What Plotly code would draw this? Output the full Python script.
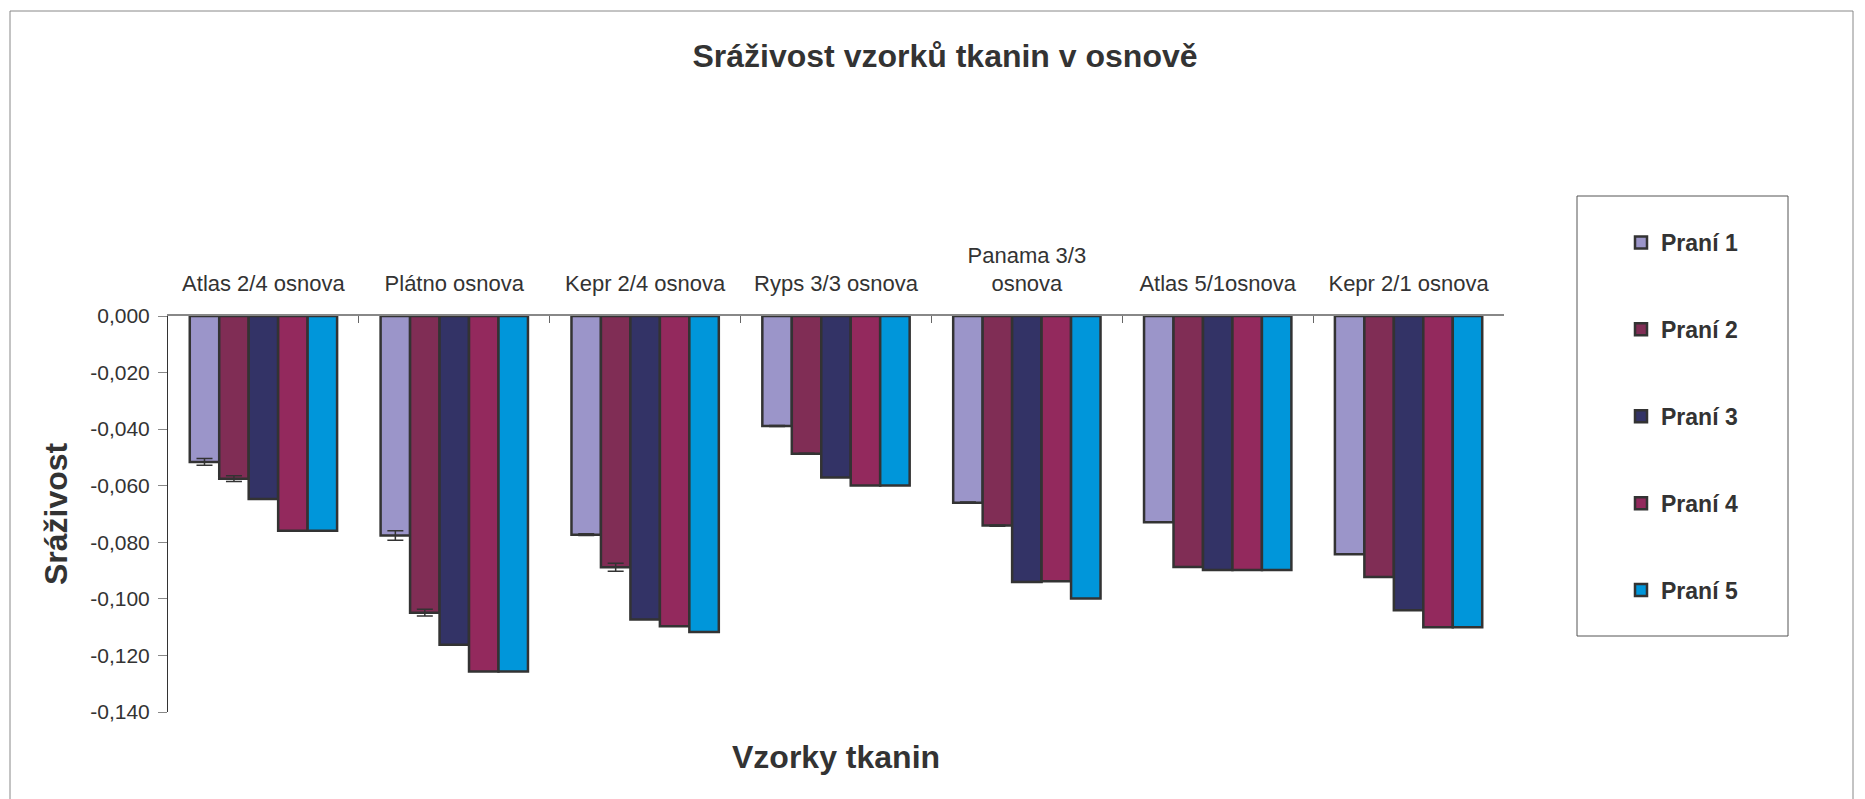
import plotly.graph_objects as go

categories = ["Atlas 2/4 osnova", "Plátno osnova", "Kepr 2/4 osnova", "Ryps 3/3 osnova",
              "Panama 3/3<br>osnova", "Atlas 5/1osnova", "Kepr 2/1 osnova"]
series_names = ["Praní 1", "Praní 2", "Praní 3", "Praní 4", "Praní 5"]

prani1 = [-0.0516, -0.0776, -0.0773, -0.0389, -0.0660, -0.0729, -0.0842]
prani2 = [-0.0575, -0.1049, -0.0888, -0.0487, -0.0741, -0.0887, -0.0923]
prani3 = [-0.0647, -0.1162, -0.1073, -0.0571, -0.0940, -0.0898, -0.1040]
prani4 = [-0.0759, -0.1257, -0.1097, -0.0599, -0.0938, -0.0898, -0.1100]
prani5 = [-0.0759, -0.1257, -0.1117, -0.0599, -0.0999, -0.0898, -0.1100]

err1 = [0.0012, 0.0017, 0.0003, 0.0002, 0.0002, 0.0, 0.0]
err2 = [0.0010, 0.0012, 0.0014, 0.0002, 0.0002, 0.0, 0.0]

y_ticks = [0.0, -0.02, -0.04, -0.06, -0.08, -0.10, -0.12, -0.14]
y_ticktext = [f"{v:.3f}".replace(".", ",") for v in y_ticks]

colors = ["#9B95C9", "#802D55", "#333366", "#93295D", "#0096DA"]
values = [prani1, prani2, prani3, prani4, prani5]
errors = [err1, err2, None, None, None]

W, H = 1865, 799
L, R, T, B = 168, 1504, 316, 712

def px_x(px):
    return (px - L) / (R - L)

def px_y(py):
    return (B - py) / (B - T)

FONT = "Liberation Sans, Arial, sans-serif"
TXT = "#333333"

fig = go.Figure()
for i, (name, vals) in enumerate(zip(series_names, values)):
    kw = {}
    if errors[i] is not None:
        kw["error_y"] = dict(type="data", array=errors[i], symmetric=True,
                             color="#333333", thickness=1.5, width=8)
    fig.add_trace(go.Bar(
        x=categories, y=vals, name=name, legendgroup=name,
        marker=dict(color=colors[i], line=dict(color="#333333", width=2.5)),
        **kw))

shapes = [
    dict(type="rect", xref="paper", yref="paper",
         x0=px_x(10), x1=px_x(1853), y0=px_y(812), y1=px_y(11),
         line=dict(color="#888888", width=1), layer="below"),
    dict(type="rect", xref="paper", yref="paper",
         x0=px_x(1577), x1=px_x(1788), y0=px_y(636), y1=px_y(196),
         line=dict(color="#555555", width=1), layer="below"),
]

annotations = [
    dict(text="Vzorky tkanin", xref="paper", yref="paper",
         x=px_x(836), y=px_y(757), xanchor="center", yanchor="middle",
         showarrow=False, font=dict(family=FONT, size=32, color=TXT, weight="bold")),
    dict(text="Sráživost", xref="paper", yref="paper",
         x=px_x(56), y=px_y(514), xanchor="center", yanchor="middle", textangle=-90,
         showarrow=False, font=dict(family=FONT, size=32, color=TXT, weight="bold")),
]

fig.update_layout(
    width=W, height=H,
    margin=dict(l=L, r=W - R, t=T, b=H - B, pad=0),
    paper_bgcolor="white", plot_bgcolor="white",
    title=dict(text="Sráživost vzorků tkanin v osnově", x=945 / W, xref="container",
               xanchor="center", y=1 - 56 / H, yanchor="middle",
               font=dict(family=FONT, size=32, color=TXT, weight="bold")),
    barmode="group", bargap=0.228, bargroupgap=0,
    font=dict(family=FONT, color=TXT),
    showlegend=True,
    legend=dict(x=px_x(1621), y=px_y(221), xanchor="left", yanchor="top",
                bgcolor="rgba(0,0,0,0)", borderwidth=0, maxheight=700,
                font=dict(family=FONT, size=23, color=TXT, weight="bold"),
                tracegroupgap=54, traceorder="grouped"),
    xaxis=dict(side="top", showline=True, linecolor="#888888", linewidth=1.5,
               ticks="inside", ticklen=7, tickcolor="#666666", tickson="boundaries",
               tickfont=dict(family=FONT, size=22, color=TXT),
               ticklabelstandoff=14, showgrid=False, zeroline=False, mirror=False),
    yaxis=dict(range=[-0.14, 0.0], tickvals=y_ticks, ticktext=y_ticktext,
               showline=True, linecolor="#333333", linewidth=1,
               ticks="outside", ticklen=9, tickcolor="#888888",
               tickfont=dict(family=FONT, size=21, color=TXT),
               ticklabelstandoff=4, showgrid=False, zeroline=False),
    shapes=shapes, annotations=annotations,
)

fig.write_html("out.html")
